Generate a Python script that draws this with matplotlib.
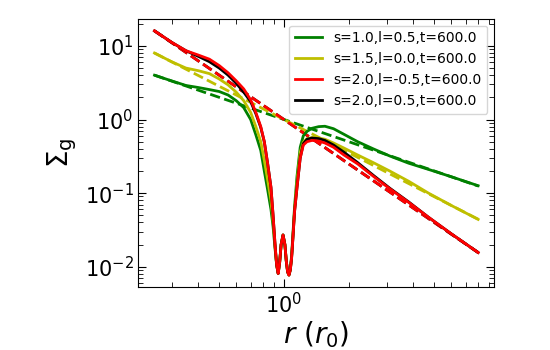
import numpy as np
import matplotlib
matplotlib.use('Agg')
import matplotlib.pyplot as plt


# radius grid shared by the evolved (solid) profiles, in units of r0
r = [0.25, 0.30, 0.35, 0.40, 0.45, 0.50, 0.55, 0.60, 0.65, 0.70, 0.74, 0.78,
     0.81, 0.84, 0.87, 0.89, 0.91, 0.925, 0.94, 0.955, 0.97, 0.99, 1.01,
     1.025, 1.04, 1.055, 1.07, 1.085, 1.10, 1.12, 1.15, 1.19, 1.23, 1.28,
     1.35, 1.45, 1.55, 1.70, 1.90, 2.2, 2.6, 3.1, 3.8, 4.7, 6.0, 8.0]

sig_s10 = [4.0, 3.35, 2.9, 2.72, 2.55, 2.4, 2.15, 1.8, 1.45, 1.0, 0.62, 0.38,
           0.2, 0.11, 0.06, 0.035, 0.017, 0.0105, 0.0082, 0.0115, 0.02, 0.027, 0.02,
           0.012, 0.0085, 0.0078, 0.0093, 0.014, 0.027, 0.065, 0.17, 0.42, 0.6, 0.69,
           0.76, 0.8, 0.81, 0.75, 0.63, 0.5, 0.4, 0.32, 0.255, 0.21, 0.167, 0.126]

sig_s15 = [8.0, 6.1, 5.0, 4.6, 4.2, 3.55, 2.95, 2.35, 1.8, 1.25, 0.8, 0.5,
           0.28, 0.15, 0.08, 0.042, 0.018, 0.0105, 0.0081, 0.0115, 0.02, 0.027, 0.02,
           0.012, 0.0085, 0.0077, 0.009, 0.0135, 0.025, 0.06, 0.14, 0.36, 0.49, 0.55,
           0.57, 0.56, 0.54, 0.48, 0.41, 0.33, 0.26, 0.2, 0.145, 0.1, 0.068, 0.044]

sig_s20_lm = [16.0, 11.2, 8.6, 7.5, 6.6, 5.4, 4.3, 3.35, 2.6, 1.85, 1.25, 0.8,
              0.5, 0.25, 0.12, 0.05, 0.019, 0.0105, 0.0081, 0.0115, 0.02, 0.027, 0.02,
              0.012, 0.0085, 0.0077, 0.009, 0.013, 0.024, 0.056, 0.12, 0.3, 0.45, 0.5,
              0.52, 0.51, 0.48, 0.42, 0.33, 0.25, 0.17, 0.115, 0.075, 0.047, 0.028, 0.0156]

sig_s20_lp = [16.0, 11.2, 8.6, 7.2, 6.1, 5.0, 4.0, 3.1, 2.35, 1.75, 1.2, 0.78,
              0.5, 0.25, 0.12, 0.05, 0.019, 0.0105, 0.0081, 0.0115, 0.02, 0.027, 0.02,
              0.012, 0.0085, 0.0077, 0.009, 0.013, 0.024, 0.056, 0.12, 0.3, 0.47, 0.54,
              0.56, 0.55, 0.52, 0.45, 0.36, 0.26, 0.175, 0.117, 0.076, 0.047, 0.028, 0.0156]

# initial power-law profiles (dashed)
r_init = [0.25, 8.0]
init_s10 = [4.0, 0.125]
init_s15 = [8.0, 0.0442]
init_s20 = [16.0, 0.0156]

labels = ['s=1.0,l=0.5,t=600.0', 's=1.5,l=0.0,t=600.0',
          's=2.0,l=-0.5,t=600.0', 's=2.0,l=0.5,t=600.0']


fig = plt.figure(figsize=(5.5, 3.5), dpi=100)
ax = fig.add_axes([0.2515, 0.1791, 0.6473, 0.7676])

ax.plot(r_init, init_s20, 'k--', lw=2, zorder=1)
ax.plot(r_init, init_s10, 'g--', lw=2, zorder=2)
ax.plot(r_init, init_s15, 'y--', lw=2, zorder=2)
ax.plot(r_init, init_s20, 'r--', lw=2, zorder=2)

l1, = ax.plot(r, sig_s10, 'g-', lw=2, zorder=3, label=labels[0])
l2, = ax.plot(r, sig_s15, 'y-', lw=2, zorder=4, label=labels[1])
l4, = ax.plot(r, sig_s20_lp, 'k-', lw=2, zorder=5, label=labels[3])
l3, = ax.plot(r, sig_s20_lm, 'r-', lw=2, zorder=6, label=labels[2])

ax.set_xscale('log')
ax.set_yscale('log')

ax.set_xlabel(r'$r\ (r_0)$', fontsize=20, labelpad=1)
ax.set_ylabel(r'$\Sigma_{\rm g}$', fontsize=20)

ax.tick_params(which='both', direction='in', top=True, right=True, labelsize=15)
ax.tick_params(which='major', length=6)
ax.tick_params(which='minor', length=3.5)

ax.legend(handles=[l1, l2, l3, l4], loc='upper right', fontsize=10)

fig.savefig('out.png', dpi=100)
